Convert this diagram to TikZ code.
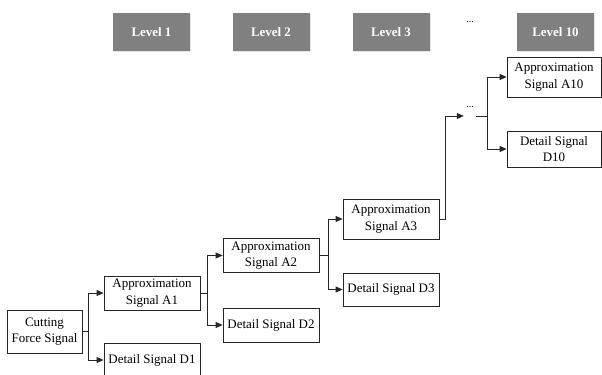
\documentclass[tikz,border=0pt]{standalone}
\usepackage{fontspec}
\setmainfont{Liberation Serif}
\usetikzlibrary{arrows.meta,shadows}

\begin{document}
\begin{tikzpicture}[x=1bp,y=1bp,
  sigbox/.style={draw=black!85, line width=0.8bp, fill=white, align=center,
    inner sep=0pt, minimum width=96bp, minimum height=34bp,
    font=\fontsize{13}{16.5}\selectfont},
  levelbox/.style={fill=black!50, text=white, minimum width=77bp,
    minimum height=38bp, font=\fontsize{13}{16}\selectfont\bfseries,
    drop shadow={opacity=0.2, shadow xshift=1bp, shadow yshift=-1bp}},
  branch/.style={draw=black!85, line width=0.8bp, -{Triangle[length=7bp,width=6bp]}},
  dots/.style={font=\fontsize{10}{10}\selectfont, inner sep=0pt}]
  \useasboundingbox (0,0) rectangle (602,374);
  % level headers
  \node[levelbox] (lv1) at (151.5,342) {Level 1};
  \node[levelbox] (lv2) at (271,342) {Level 2};
  \node[levelbox] (lv3) at (391,342) {Level 3};
  \node[dots] (lvdots) at (470,352) {...};
  \node[levelbox] (lv10) at (555.5,342) {Level 10};
  % signals
  \node[sigbox, minimum width=75bp, minimum height=43bp] (cfs) at (44.5,42.5) {Cutting\\Force Signal};
  \node[sigbox] (a1) at (152,81) {Approximation\\Signal A1};
  \node[sigbox] (d1) at (152,14) {Detail Signal D1};
  \node[sigbox] (a2) at (271,118.5) {Approximation\\Signal A2};
  \node[sigbox] (d2) at (271,49) {Detail Signal D2};
  \node[sigbox, minimum height=40bp] (a3) at (391,155) {Approximation\\Signal A3};
  \node[sigbox, minimum height=33bp] (d3) at (391,84.5) {Detail Signal D3};
  \node[minimum width=12bp, minimum height=4bp, inner sep=0pt] (mid) at (470,258) {};
  \node[dots] (middots) at (470,267) {...};
  \node[sigbox, minimum width=94bp, minimum height=40bp] (a10) at (554,297) {Approximation\\Signal A10};
  \node[sigbox, minimum width=94bp, minimum height=36bp] (d10) at (554,225) {Detail Signal\\D10};
  % connectors
  \draw[branch] (cfs.east) -- ++(6,0) |- (a1.west);
  \draw[branch] (cfs.east) -- ++(6,0) |- (d1.west);
  \draw[branch] (a1.east) -- ++(7,0) |- (a2.west);
  \draw[branch] (a1.east) -- ++(7,0) |- (d2.west);
  \draw[branch] (a2.east) -- ++(9,0) |- (a3.west);
  \draw[branch] (a2.east) -- ++(9,0) |- (d3.west);
  \draw[branch] (a3.east) -- ++(6,0) |- (mid.west);
  \draw[branch] (mid.east) -- ++(11,0) |- (a10.west);
  \draw[branch] (mid.east) -- ++(11,0) |- (d10.west);
\end{tikzpicture}
\end{document}
